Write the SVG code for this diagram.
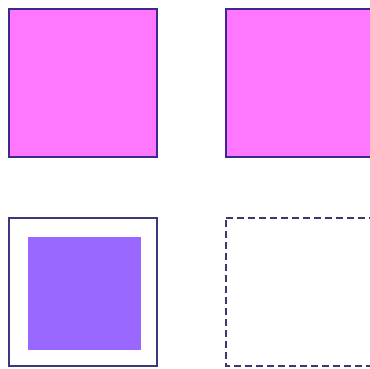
<svg xmlns="http://www.w3.org/2000/svg" width="370" height="369" viewBox="0 0 370 369">
<style>
.pink{fill:#ff77ff;stroke:#3a2a8c;stroke-width:2}
.frame{fill:#ffffff;stroke:#3a3a7a;stroke-width:2}
.inner{fill:#9966ff;stroke:none}
.dash{fill:#ffffff;stroke:#3a3a6a;stroke-width:2;stroke-dasharray:7 4}
</style>
<rect width="370" height="369" fill="#ffffff"/>
<g id="node-top-left"><rect class="pink" x="9" y="9" width="148" height="148"/></g>
<g id="node-top-right"><rect class="pink" x="226" y="9" width="148" height="148"/></g>
<g id="node-bottom-left"><rect class="frame" x="9" y="218" width="148" height="148"/><rect class="inner" x="28" y="237" width="113" height="113"/></g>
<g id="node-bottom-right"><rect class="dash" x="226" y="218" width="148" height="148"/></g>
<g id="connectors"></g>
</svg>
